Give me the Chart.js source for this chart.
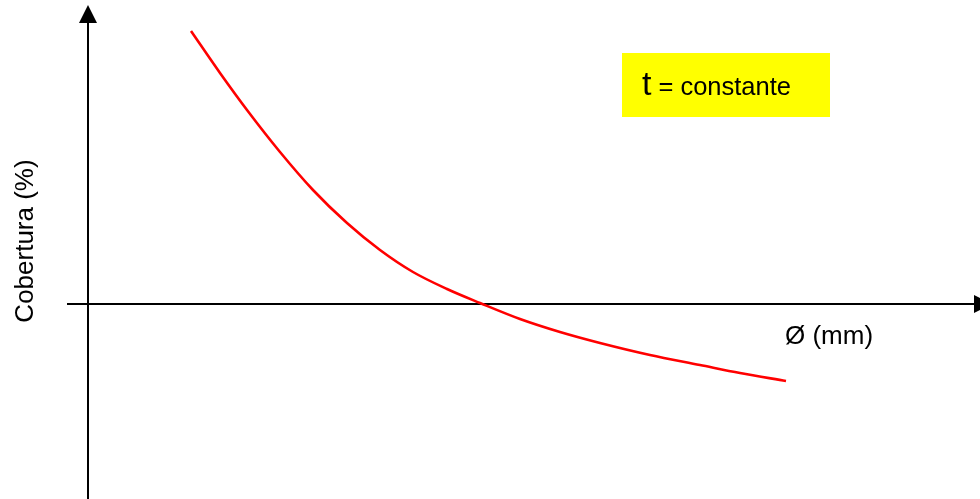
<!DOCTYPE html>
<html>
<head>
<meta charset="utf-8">
<script src="https://cdn.jsdelivr.net/npm/chart.js@4/dist/chart.umd.min.js"></script>
<style>
  html, body { margin: 0; padding: 0; background: #ffffff; overflow: hidden; }
  #wrap { width: 980px; height: 499px; position: relative; }
</style>
</head>
<body>
<div id="wrap"><canvas id="c" width="980" height="499"></canvas></div>
<script>
// Diameter Ø (arbitrary units, origin at the vertical axis)
const diameter = [1.03, 1.32, 1.59, 1.92, 2.25, 2.59, 2.92, 3.25, 3.59, 3.92, 4.32, 4.72, 5.12, 5.62, 6.12, 6.52, 6.98];
// Cobertura (arbitrary units, origin at the horizontal axis)
const cobertura = [2.73, 2.31, 1.94, 1.52, 1.14, 0.81, 0.54, 0.32, 0.15, 0.01, -0.15, -0.28, -0.39, -0.51, -0.61, -0.69, -0.77];

const xAxisTitle = 'Ø (mm)';
const yAxisTitle = 'Cobertura (%)';
const noteMain = 't';
const noteRest = '= constante';

// visible window of the diagram, in data units
const xRange = [-0.88, 8.92];
const yRange = [-1.95, 3.04];
// extents of drawn axes (data units)
const xAxisExtent = [-0.21, 9.04];
const yAxisExtent = [-1.95, 2.99];
// note box extents (data units)
const noteBoxX = [5.34, 7.42];
const noteBoxY = [1.87, 2.51];

const points = diameter.map((d, i) => ({ x: d, y: cobertura[i] }));

const diagramPlugin = {
  id: 'diagram',
  beforeDatasetsDraw(chart) {
    const { ctx, scales: { x, y } } = chart;
    ctx.save();
    // note box
    const bx0 = x.getPixelForValue(noteBoxX[0]), bx1 = x.getPixelForValue(noteBoxX[1]);
    const by0 = y.getPixelForValue(noteBoxY[1]), by1 = y.getPixelForValue(noteBoxY[0]);
    ctx.fillStyle = '#ffff00';
    ctx.fillRect(bx0, by0, bx1 - bx0, by1 - by0);
    ctx.fillStyle = '#000000';
    ctx.textBaseline = 'alphabetic';
    ctx.textAlign = 'left';
    ctx.font = '34px "Liberation Sans", Arial, sans-serif';
    const base = by0 + 42;
    ctx.fillText(noteMain, bx0 + 20, base);
    const tw = ctx.measureText(noteMain).width;
    ctx.font = '25.5px "Liberation Sans", Arial, sans-serif';
    ctx.fillText(noteRest, bx0 + 20 + tw + 7, base);

    // axes
    ctx.strokeStyle = '#000000';
    ctx.fillStyle = '#000000';
    ctx.lineWidth = 2;
    const x0 = x.getPixelForValue(0), y0 = y.getPixelForValue(0);
    const xa = x.getPixelForValue(xAxisExtent[0]), xb = x.getPixelForValue(xAxisExtent[1]);
    const ya = y.getPixelForValue(yAxisExtent[0]), yb = y.getPixelForValue(yAxisExtent[1]);
    const ah = 18, aw = 9;
    ctx.beginPath();
    ctx.moveTo(xa, y0); ctx.lineTo(xb - ah + 2, y0);
    ctx.moveTo(x0, ya); ctx.lineTo(x0, yb + ah - 2);
    ctx.stroke();
    // arrow heads
    ctx.beginPath();
    ctx.moveTo(xb, y0); ctx.lineTo(xb - ah, y0 - aw); ctx.lineTo(xb - ah, y0 + aw); ctx.closePath();
    ctx.fill();
    ctx.beginPath();
    ctx.moveTo(x0, yb); ctx.lineTo(x0 - aw, yb + ah); ctx.lineTo(x0 + aw, yb + ah); ctx.closePath();
    ctx.fill();

    // axis titles
    ctx.font = '26px "Liberation Sans", Arial, sans-serif';
    ctx.textAlign = 'left';
    ctx.fillText(xAxisTitle, x.getPixelForValue(6.97), y0 + 40);
    ctx.save();
    ctx.translate(33, y.getPixelForValue(0.63));
    ctx.rotate(-Math.PI / 2);
    ctx.textAlign = 'center';
    ctx.font = '26px "Liberation Sans", Arial, sans-serif';
    ctx.fillText(yAxisTitle, 0, 0);
    ctx.restore();
    ctx.restore();
  }
};

new Chart(document.getElementById('c'), {
  type: 'scatter',
  data: {
    datasets: [{
      data: points,
      showLine: true,
      borderColor: '#ff0000',
      borderWidth: 2.6,
      pointRadius: 0,
      cubicInterpolationMode: 'monotone',
      fill: false
    }]
  },
  options: {
    responsive: false,
    devicePixelRatio: 1,
    animation: false,
    layout: { padding: 0 },
    plugins: { legend: { display: false }, tooltip: { enabled: false }, title: { display: false } },
    scales: {
      x: { type: 'linear', display: false, min: xRange[0], max: xRange[1] },
      y: { type: 'linear', display: false, min: yRange[0], max: yRange[1] }
    },
    clip: false
  },
  plugins: [diagramPlugin]
});
</script>
</body>
</html>
